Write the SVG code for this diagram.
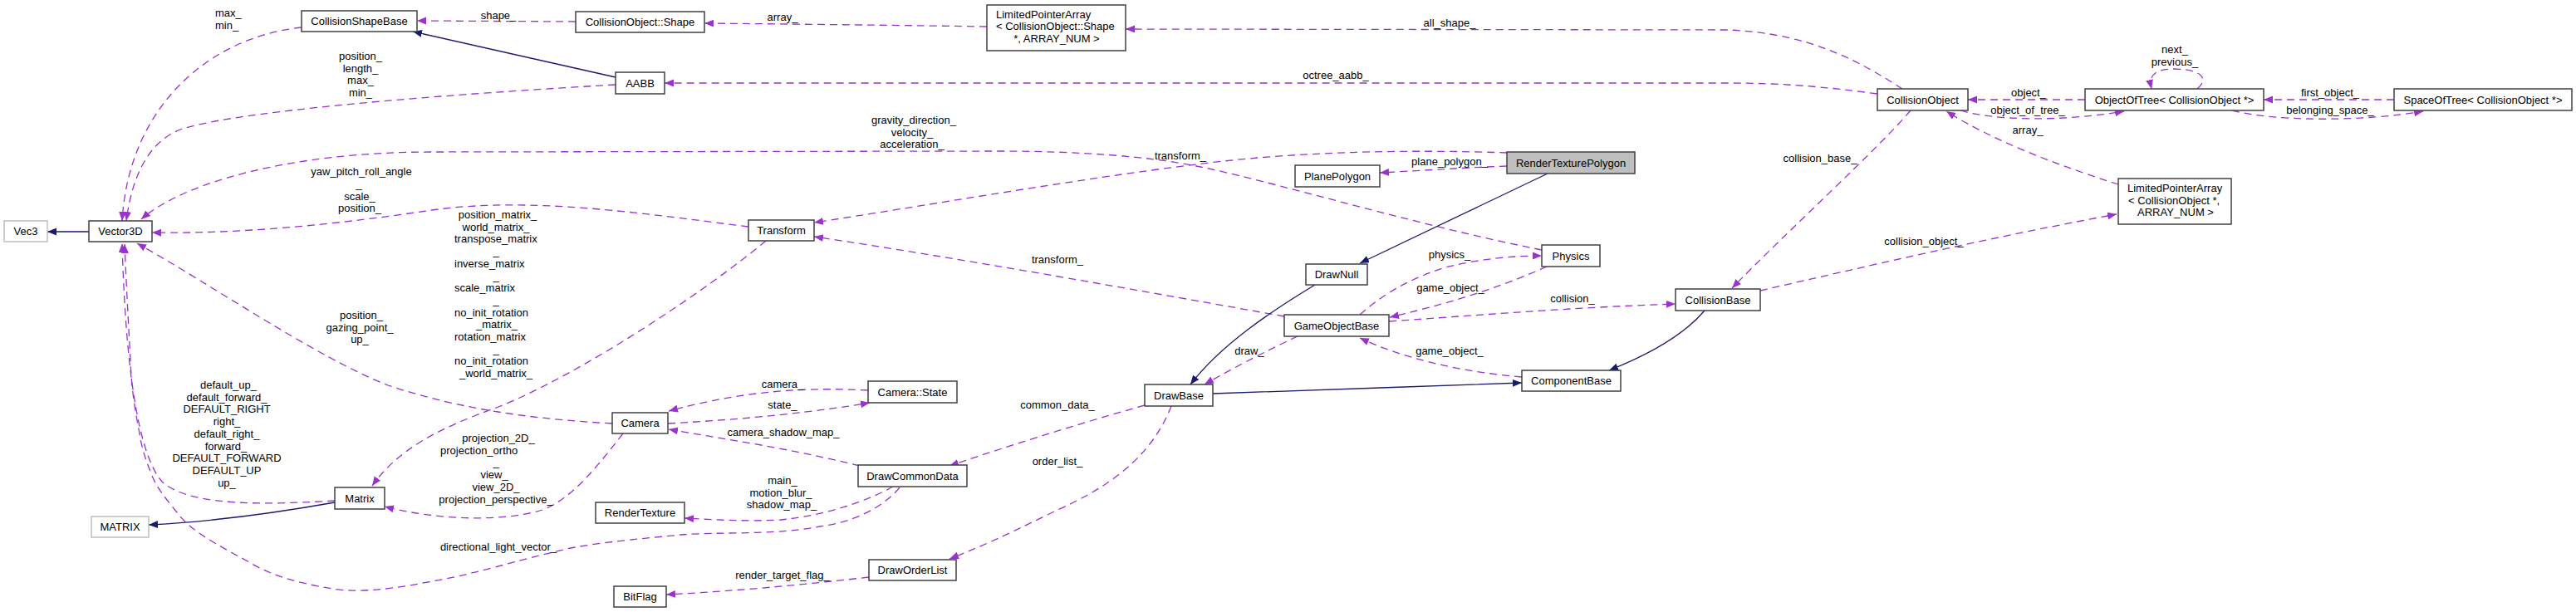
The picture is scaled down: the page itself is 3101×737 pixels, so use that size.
<svg xmlns="http://www.w3.org/2000/svg" width="3101" height="737" viewBox="0 0 3101 737">
<defs>
<style>
text{font-family:"Liberation Sans",Arial,sans-serif;font-size:13px;fill:#000}
.m{text-anchor:middle}
.s{text-anchor:start}
.node rect{fill:#fff;stroke:#404040;stroke-width:1.5}
.node.gray rect{stroke:#bfbfbf}
.node.cur rect{fill:#bfbfbf}
.u{fill:none;stroke:#9a32cd;stroke-width:1.3;stroke-dasharray:9,6;marker-end:url(#ap)}
.i{fill:none;stroke:#191970;stroke-width:1.3;marker-end:url(#ab)}
</style>
<marker id="ap" markerUnits="userSpaceOnUse" markerWidth="13" markerHeight="11" refX="11" refY="4.5" orient="auto"><path d="M0,0 L11,4.5 L0,9 z" fill="#9a32cd"/></marker>
<marker id="ab" markerUnits="userSpaceOnUse" markerWidth="13" markerHeight="11" refX="11" refY="4.5" orient="auto"><path d="M0,0 L11,4.5 L0,9 z" fill="#191970"/></marker>
</defs>
<rect width="3101" height="737" fill="#fff"/>
<g id="connectors">
<path class="i" d="M107,279 L57,279"/>
<path class="u" d="M363,33 C250,45 155,130 147,266"/>
<path class="u" d="M741,102 C600,110 300,130 220,155 C175,170 158,220 152,266"/>
<path class="u" d="M901,273 C780,258 640,236 520,253 C420,268 300,282 183,280"/>
<path class="u" d="M1856,301 C1700,270 1520,215 1440,200 C1380,188 1300,182 1200,182 L520,183 C350,183 220,220 170,264"/>
<path class="u" d="M1814,184 C1700,180 1560,182 1440,198 C1300,215 1100,250 980,268"/>
<path class="u" d="M1546,381 C1400,355 1150,310 980,285"/>
<path class="u" d="M1814,200 C1760,202 1720,205 1661,208"/>
<path class="i" d="M1863,209 L1637,317"/>
<path class="i" d="M1583,343 C1530,375 1470,415 1433,463"/>
<path class="u" d="M1562,405 C1530,420 1490,440 1450,463"/>
<path class="u" d="M1637,379 C1670,350 1700,335 1740,322 C1780,312 1820,308 1856,308"/>
<path class="u" d="M1862,321 C1820,340 1760,362 1673,382"/>
<path class="u" d="M1672,387 C1800,378 1900,370 2017,366"/>
<path class="u" d="M1832,454 C1760,448 1690,432 1637,407"/>
<path class="i" d="M1460,474 C1600,470 1700,465 1832,461"/>
<path class="i" d="M2052,374 C2030,400 1990,425 1937,446"/>
<path class="u" d="M2300,133 C2260,180 2150,280 2085,347"/>
<path class="u" d="M2550,222 C2480,200 2400,170 2343,134"/>
<path class="u" d="M2119,350 C2250,320 2400,285 2548,258"/>
<path class="u" d="M2510,120 L2369,120"/>
<path class="u" d="M2360,133 C2400,145 2480,147 2557,134"/>
<path class="u" d="M2645,107 C2660,95 2650,83 2617,83 C2595,83 2586,90 2590,107"/>
<path class="u" d="M2882,120 L2725,120"/>
<path class="u" d="M2687,133 C2740,147 2850,146 2917,134"/>
<path class="u" d="M2260,113 C2200,105 2150,100 2080,100 L800,100"/>
<path class="u" d="M2290,107 C2240,75 2180,40 2080,36 L1355,35"/>
<path class="u" d="M1188,32 C1050,30 950,29 848,28"/>
<path class="u" d="M693,26 L502,25"/>
<path class="i" d="M741,93 L497,38"/>
<path class="u" d="M737,510 C650,505 560,495 467,464 C380,430 250,340 165,293"/>
<path class="u" d="M403,603 C330,607 230,612 195,580 C160,540 150,400 147,293"/>
<path class="u" d="M1083,587 C1060,615 1020,630 987,634 C930,645 870,640 820,644 C780,648 730,652 687,660 C620,675 570,692 520,700 C470,710 430,714 400,709 C360,702 330,695 300,677 C260,655 230,640 213,617 C195,595 188,585 183,573 C172,545 170,535 167,517 C160,480 158,460 157,433 C154,380 152,340 150,294"/>
<path class="u" d="M922,290 C850,350 700,450 600,490 C530,515 480,540 448,585"/>
<path class="u" d="M750,522 C720,560 690,600 653,614 C600,630 520,625 463,610"/>
<path class="u" d="M1045,470 C950,465 880,475 805,495"/>
<path class="u" d="M804,510 C900,505 990,495 1047,485"/>
<path class="u" d="M1035,561 C950,540 880,530 805,517"/>
<path class="u" d="M1075,586 C1050,600 1000,620 940,626 C900,628 860,626 824,624"/>
<path class="u" d="M1378,488 C1300,510 1220,535 1143,561"/>
<path class="u" d="M1410,489 C1390,540 1350,580 1273,614 C1230,635 1190,655 1143,673"/>
<path class="u" d="M1046,695 C960,705 880,712 802,716"/>
<path class="i" d="M403,605 C330,618 260,628 179,632"/>
</g>
<g id="edge-labels">
<text class="s" x="259" y="20">max_</text>
<text class="s" x="259" y="35">min_</text>
<text class="m" x="434" y="72">position_</text>
<text class="m" x="434" y="86.7">length_</text>
<text class="m" x="434" y="101.4">max_</text>
<text class="m" x="434" y="116">min_</text>
<text class="m" x="600" y="23">shape_</text>
<text class="m" x="942" y="25">array_</text>
<text class="m" x="1745" y="32">all_shape_</text>
<text class="m" x="1608" y="95">octree_aabb_</text>
<text class="m" x="1100" y="149">gravity_direction_</text>
<text class="m" x="1098" y="163.7">velocity_</text>
<text class="m" x="1098" y="178.4">acceleration_</text>
<text class="m" x="1421" y="192">transform_</text>
<text class="m" x="1273" y="317">transform_</text>
<text class="m" x="1745" y="199">plane_polygon_</text>
<text class="m" x="435" y="211">yaw_pitch_roll_angle</text>
<text class="m" x="432" y="226">_</text>
<text class="m" x="433" y="240.5">scale_</text>
<text class="m" x="433" y="255">position_</text>
<text class="m" x="599" y="263">position_matrix_</text>
<text class="m" x="597" y="277.7">world_matrix_</text>
<text class="s" x="547" y="292.4">transpose_matrix</text>
<text class="m" x="597" y="307.1">_</text>
<text class="s" x="547" y="321.8">inverse_matrix</text>
<text class="m" x="597" y="336.5">_</text>
<text class="s" x="547" y="351.2">scale_matrix</text>
<text class="m" x="597" y="365.9">_</text>
<text class="s" x="547" y="380.6">no_init_rotation</text>
<text class="m" x="598" y="395.3">_matrix_</text>
<text class="s" x="547" y="410">rotation_matrix</text>
<text class="m" x="597" y="424.7">_</text>
<text class="s" x="547" y="439.4">no_init_rotation</text>
<text class="m" x="597" y="454.1">_world_matrix_</text>
<text class="m" x="1745" y="311">physics_</text>
<text class="m" x="1746" y="351">game_object_</text>
<text class="m" x="1893" y="364">collision_</text>
<text class="m" x="2442" y="116">object_</text>
<text class="m" x="2441" y="137">object_of_tree_</text>
<text class="m" x="2441" y="161">array_</text>
<text class="m" x="2191" y="195">collision_base_</text>
<text class="m" x="2316" y="295">collision_object_</text>
<text class="m" x="2618" y="64">next_</text>
<text class="m" x="2618" y="78.7">previous_</text>
<text class="m" x="2805" y="116">first_object_</text>
<text class="m" x="2805" y="137">belonging_space_</text>
<text class="m" x="435" y="384">position_</text>
<text class="m" x="433" y="398.7">gazing_point_</text>
<text class="m" x="433" y="413.4">up_</text>
<text class="m" x="275" y="468">default_up_</text>
<text class="m" x="273" y="482.7">default_forward_</text>
<text class="m" x="273" y="497.4">DEFAULT_RIGHT</text>
<text class="m" x="273" y="512.1">right_</text>
<text class="m" x="273" y="526.8">default_right_</text>
<text class="m" x="272" y="541.5">forward_</text>
<text class="m" x="273" y="556.2">DEFAULT_FORWARD</text>
<text class="m" x="273" y="570.9">DEFAULT_UP</text>
<text class="m" x="273" y="585.6">up_</text>
<text class="m" x="942" y="467">camera_</text>
<text class="m" x="942" y="492">state_</text>
<text class="m" x="943" y="525">camera_shadow_map_</text>
<text class="m" x="600" y="532">projection_2D_</text>
<text class="s" x="530" y="546.7">projection_ortho</text>
<text class="m" x="597" y="561.4">_</text>
<text class="m" x="595" y="576.1">view_</text>
<text class="m" x="597" y="590.8">view_2D_</text>
<text class="m" x="597" y="605.5">projection_perspective_</text>
<text class="m" x="942" y="583">main_</text>
<text class="m" x="940" y="597.7">motion_blur_</text>
<text class="m" x="941" y="612.4">shadow_map_</text>
<text class="m" x="600" y="663">directional_light_vector_</text>
<text class="m" x="942" y="697">render_target_flag_</text>
<text class="m" x="1273" y="492">common_data_</text>
<text class="m" x="1273" y="560">order_list_</text>
<text class="m" x="1504" y="427">draw_</text>
<text class="m" x="1745" y="427">game_object_</text>
</g>
<g id="node-Vec3" class="node gray"><rect x="5" y="266" width="52" height="25"/><text class="m" x="31" y="283">Vec3</text></g>
<g id="node-Vector3D" class="node"><rect x="107" y="266" width="76" height="25"/><text class="m" x="145" y="283">Vector3D</text></g>
<g id="node-CollisionShapeBase" class="node"><rect x="363" y="13" width="139" height="25"/><text class="m" x="432.5" y="30">CollisionShapeBase</text></g>
<g id="node-CollisionObjectShape" class="node"><rect x="693" y="14" width="155" height="25"/><text class="m" x="770.5" y="31">CollisionObject::Shape</text></g>
<g id="node-AABB" class="node"><rect x="741" y="87" width="59" height="26"/><text class="m" x="770.5" y="104.5">AABB</text></g>
<g id="node-Transform" class="node"><rect x="901" y="265" width="79" height="25"/><text class="m" x="940.5" y="282">Transform</text></g>
<g id="node-LPAShape" class="node"><rect x="1188" y="6" width="167" height="55"/><text class="s" x="1199" y="21.5">LimitedPointerArray</text><text class="s" x="1199" y="36">&lt; CollisionObject::Shape</text><text class="m" x="1272" y="50.7"> *, ARRAY_NUM &gt;</text></g>
<g id="node-PlanePolygon" class="node"><rect x="1559" y="199" width="102" height="26"/><text class="m" x="1610" y="216.5">PlanePolygon</text></g>
<g id="node-RenderTexturePolygon" class="node cur"><rect x="1814" y="183" width="154" height="26"/><text class="m" x="1891" y="200.5">RenderTexturePolygon</text></g>
<g id="node-Physics" class="node"><rect x="1856" y="295" width="70" height="26"/><text class="m" x="1891" y="312.5">Physics</text></g>
<g id="node-DrawNull" class="node"><rect x="1572" y="318" width="74" height="25"/><text class="m" x="1609" y="335">DrawNull</text></g>
<g id="node-GameObjectBase" class="node"><rect x="1546" y="379" width="126" height="26"/><text class="m" x="1609" y="396.5">GameObjectBase</text></g>
<g id="node-CollisionBase" class="node"><rect x="2017" y="348" width="102" height="26"/><text class="m" x="2068" y="365.5">CollisionBase</text></g>
<g id="node-ComponentBase" class="node"><rect x="1832" y="446" width="119" height="25"/><text class="m" x="1891.5" y="463">ComponentBase</text></g>
<g id="node-DrawBase" class="node"><rect x="1378" y="463" width="82" height="26"/><text class="m" x="1419" y="480.5">DrawBase</text></g>
<g id="node-CollisionObject" class="node"><rect x="2260" y="107" width="109" height="26"/><text class="m" x="2314.5" y="124.5">CollisionObject</text></g>
<g id="node-ObjectOfTree" class="node"><rect x="2510" y="107" width="215" height="26"/><text class="m" x="2617.5" y="124.5">ObjectOfTree&lt; CollisionObject *&gt;</text></g>
<g id="node-SpaceOfTree" class="node"><rect x="2882" y="107" width="214" height="26"/><text class="m" x="2989" y="124.5">SpaceOfTree&lt; CollisionObject *&gt;</text></g>
<g id="node-LPACollisionObject" class="node"><rect x="2550" y="215" width="136" height="55"/><text class="s" x="2561" y="231">LimitedPointerArray</text><text class="s" x="2562" y="245.7">&lt; CollisionObject *,</text><text class="m" x="2619" y="260.4">ARRAY_NUM &gt;</text></g>
<g id="node-Matrix" class="node"><rect x="403" y="587" width="60" height="26"/><text class="m" x="433" y="604.5">Matrix</text></g>
<g id="node-MATRIX" class="node gray"><rect x="110" y="622" width="69" height="25"/><text class="m" x="144.5" y="639">MATRIX</text></g>
<g id="node-Camera" class="node"><rect x="737" y="497" width="67" height="25"/><text class="m" x="770.5" y="514">Camera</text></g>
<g id="node-RenderTexture" class="node"><rect x="717" y="605" width="107" height="25"/><text class="m" x="770.5" y="622">RenderTexture</text></g>
<g id="node-BitFlag" class="node"><rect x="739" y="706" width="63" height="25"/><text class="m" x="770.5" y="723">BitFlag</text></g>
<g id="node-CameraState" class="node"><rect x="1045" y="459" width="107" height="26"/><text class="m" x="1098.5" y="476.5">Camera::State</text></g>
<g id="node-DrawCommonData" class="node"><rect x="1033" y="560" width="131" height="26"/><text class="m" x="1098.5" y="577.5">DrawCommonData</text></g>
<g id="node-DrawOrderList" class="node"><rect x="1046" y="674" width="105" height="25"/><text class="m" x="1098.5" y="691">DrawOrderList</text></g>
</svg>
